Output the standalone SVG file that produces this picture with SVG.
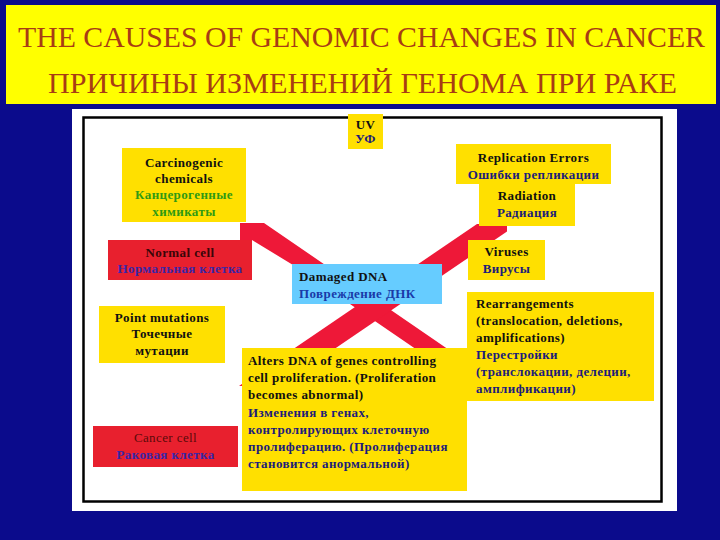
<svg xmlns="http://www.w3.org/2000/svg" width="720" height="540" viewBox="0 0 720 540">
<style>
.t{font-family:"Liberation Serif","Times New Roman",serif;font-weight:bold;font-size:13px;letter-spacing:0.4px;fill:#111}
.m{text-anchor:middle}
.ru{fill:#1c1c7a}
.gr{fill:#2f9a14}
.pu{fill:#3a26a6}
.bl{fill:#1a3aa8}
.ttl{font-family:"Liberation Serif","Times New Roman",serif;font-size:30px;fill:#a83c14;text-anchor:middle}
.y{fill:#ffe000}
.r{fill:#e8202e}
.bar{fill:#ee1838}
</style>
<rect x="0" y="0" width="720" height="540" fill="#0b0b8c"/>
<g id="title">
<rect x="6" y="5" width="710" height="99" fill="#ffff00"/>
<text class="ttl" x="361.5" y="47" textLength="687" lengthAdjust="spacingAndGlyphs">THE CAUSES OF GENOMIC CHANGES IN CANCER</text>
<text class="ttl" x="362.5" y="93" textLength="629" lengthAdjust="spacingAndGlyphs">ПРИЧИНЫ ИЗМЕНЕНИЙ ГЕНОМА ПРИ РАКЕ</text>
</g>
<rect x="72" y="109" width="605" height="402" fill="#ffffff"/>
<rect x="83.5" y="117.5" width="578" height="384" fill="none" stroke="#000" stroke-width="2.5"/>
<g id="connectors">
<polygon class="bar" points="240,223 264,223 512,393 480,393 293,265 252,240 240,240"/>
<polygon class="bar" points="477,224 507,224 507,231.5 280,386 239,386"/>
</g>
<g id="uv">
<rect class="y" x="348" y="114" width="35" height="35"/>
<text class="t m" x="365.5" y="129">UV</text>
<text class="t m ru" x="365.5" y="143">УФ</text>
</g>
<g id="carcinogenic">
<rect class="y" x="122" y="148" width="124" height="74"/>
<text class="t m" x="184" y="167">Carcinogenic</text>
<text class="t m" x="184" y="183">chemicals</text>
<text class="t m gr" x="184" y="199">Канцерогенные</text>
<text class="t m gr" x="184" y="216">химикаты</text>
</g>
<g id="normal">
<rect class="r" x="108" y="240" width="144" height="40"/>
<text class="t m" x="180" y="257" style="fill:#3a0608">Normal cell</text>
<text class="t m pu" x="180" y="273">Нормальная клетка</text>
</g>
<g id="damaged">
<rect x="292" y="264" width="150" height="40" fill="#66ccff"/>
<text class="t" x="299" y="281">Damaged DNA</text>
<text class="t bl" x="299" y="298">Повреждение ДНК</text>
</g>
<g id="replication">
<rect class="y" x="456" y="144" width="155" height="40"/>
<text class="t m" x="533.5" y="162">Replication Errors</text>
<text class="t m ru" x="533.5" y="179">Ошибки репликации</text>
</g>
<g id="radiation">
<rect class="y" x="479" y="184" width="96" height="42"/>
<text class="t m" x="527" y="200">Radiation</text>
<text class="t m ru" x="527" y="217">Радиация</text>
</g>
<g id="viruses">
<rect class="y" x="468" y="240" width="77" height="40"/>
<text class="t m" x="506.5" y="256">Viruses</text>
<text class="t m ru" x="506.5" y="273">Вирусы</text>
</g>
<g id="point">
<rect class="y" x="99" y="306" width="126" height="57"/>
<text class="t m" x="162" y="322">Point mutations</text>
<text class="t m" x="162" y="338">Точечные</text>
<text class="t m" x="162" y="355">мутации</text>
</g>
<g id="rearrangements">
<rect class="y" x="467" y="292" width="187" height="109"/>
<text class="t" x="476" y="308">Rearrangements</text>
<text class="t" x="476" y="325">(translocation, deletions,</text>
<text class="t" x="476" y="342">amplifications)</text>
<text class="t ru" x="476" y="359">Перестройки</text>
<text class="t ru" x="476" y="376">(транслокации, делеции,</text>
<text class="t ru" x="476" y="393">амплификации)</text>
</g>
<g id="cancer">
<rect class="r" x="93" y="426" width="145" height="41"/>
<text class="t m" x="165.5" y="442" style="fill:#5a0a0a;font-weight:normal">Cancer cell</text>
<text class="t m pu" x="165.5" y="459">Раковая клетка</text>
</g>
<g id="alters">
<rect class="y" x="242" y="348" width="225" height="143"/>
<text class="t" x="248" y="365">Alters DNA of genes controlling</text>
<text class="t" x="248" y="382">cell proliferation. (Proliferation</text>
<text class="t" x="248" y="399">becomes abnormal)</text>
<text class="t ru" x="248" y="417">Изменения в генах,</text>
<text class="t ru" x="248" y="434">контролирующих клеточную</text>
<text class="t ru" x="248" y="451">пролиферацию. (Пролиферация</text>
<text class="t ru" x="248" y="468">становится анормальной)</text>
</g>
</svg>
